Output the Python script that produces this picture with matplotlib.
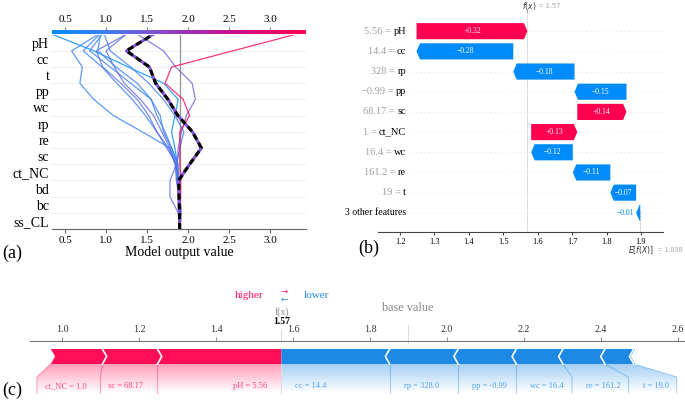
import numpy as np
import matplotlib
matplotlib.use("Agg")
import matplotlib.pyplot as plt
import matplotlib.transforms as mtransforms
from matplotlib.colors import LinearSegmentedColormap, Normalize, to_rgba
from matplotlib.patches import Polygon

plt.rcParams['font.family'] = ['Liberation Serif', 'DejaVu Sans']
plt.rcParams['mathtext.fontset'] = 'dejavusans'

FIG_W, FIG_H = 685, 408

# SHAP values of the explained sample
base_value = 1.898
wf_features = ['pH', 'cc', 'rp', 'pp', 'sc', 'ct_NC', 'wc', 're', 't']
wf_values = ['5.56', '14.4', '328', '\u22120.99', '68.17', '1', '16.4', '161.2', '19']
force_values = ['5.56', '14.4', '328.0', '-0.99', '68.17', '1.0', '16.4', '161.2', '19.0']
wf_shap = [0.322, -0.281, -0.178, -0.151, 0.143, 0.134, -0.121, -0.109, -0.075]
other_features = ['bd', 'bc', 'ss_CL']
other_shap = [-0.004, -0.006, -0.002]
other_label = '3 other features'

# decision plot: rows top to bottom, other samples as cumulative output
# at each row boundary (top = model output, bottom = base value)
dec_features = ['pH', 'cc', 't', 'pp', 'wc', 'rp', 're', 'sc', 'ct_NC', 'bd', 'bc', 'ss_CL']
dec_lines = [
    [0.35, 0.85, 1.27, 1.70, 1.88, 1.84, 1.80, 1.84, 1.87, 1.88, 1.89, 1.90, 1.898],
    [0.90, 0.58, 0.71, 0.68, 0.85, 1.09, 1.44, 1.78, 1.86, 1.86, 1.89, 1.90, 1.898],
    [0.92, 0.72, 0.95, 1.13, 1.32, 1.48, 1.62, 1.76, 1.85, 1.88, 1.89, 1.90, 1.898],
    [0.95, 0.80, 1.05, 1.30, 1.55, 1.66, 1.70, 1.80, 1.87, 1.88, 1.90, 1.90, 1.898],
    [1.24, 0.88, 0.96, 1.18, 1.38, 1.52, 1.62, 1.74, 1.86, 1.78, 1.78, 1.88, 1.898],
    [1.39, 1.70, 1.85, 2.05, 2.09, 1.98, 1.92, 1.88, 1.87, 1.89, 1.90, 1.90, 1.898],
    [1.24, 1.00, 1.10, 1.22, 1.42, 1.58, 1.68, 1.78, 1.84, 1.86, 1.90, 1.92, 1.898],
    [0.93, 0.90, 1.12, 1.38, 1.55, 1.62, 1.72, 1.80, 1.88, 1.87, 1.88, 1.89, 1.898],
    [0.98, 1.05, 1.30, 1.52, 1.70, 1.84, 1.95, 1.90, 1.86, 1.88, 1.89, 1.90, 1.898],
    [3.30, 2.55, 1.80, 1.72, 1.94, 2.02, 1.90, 1.90, 1.90, 1.91, 1.91, 1.90, 1.898],
]
dec_ticks = [0.5, 1.0, 1.5, 2.0, 2.5, 3.0]
wf_ticks = [1.2, 1.3, 1.4, 1.5, 1.6, 1.7, 1.8, 1.9]
force_ticks = [1.0, 1.2, 1.4, 1.6, 1.8, 2.0, 2.2, 2.4, 2.6]

RED_W, BLUE_W = '#ff0051', '#008bfb'
RED_F, BLUE_F = '#ff0d57', '#1e88e5'

fx = base_value + sum(wf_shap) + sum(other_shap)
shap_map = dict(zip(wf_features + other_features, wf_shap + other_shap))

fig = plt.figure(figsize=(FIG_W / 100, FIG_H / 100), dpi=100)
renderer = fig.canvas.get_renderer()


def px_axes(x0, y0, x1, y1):
    return fig.add_axes([x0 / FIG_W, 1 - y1 / FIG_H, (x1 - x0) / FIG_W, (y1 - y0) / FIG_H])


def fmt(v):
    return f'{v:+.2f}'.replace('-', '\u2212')


def text_px(ax, label, **kw):
    t = ax.text(0, 0, label, **kw)
    w = t.get_window_extent(renderer).width
    t.remove()
    return w


# ---------------- (a) decision plot ----------------
ax_a = px_axes(52, 34.6, 306, 229)
x_lo, x_hi = 0.34, 3.44
cmap = LinearSegmentedColormap.from_list('shap_rb', [
    (0.0, '#008bfb'), (0.18, '#3482f2'), (0.37, '#7a5ad8'), (0.53, '#9a30b8'),
    (0.70, '#c81090'), (0.86, '#e80a6a'), (1.0, '#ff0052')])
norm = Normalize(x_lo, x_hi)
n = len(dec_features)
for i in range(1, n):
    ax_a.axhline(i, color='#cccccc', lw=0.6, dashes=(1, 2), zorder=0)
ax_a.axvline(base_value, color='#999999', lw=1, zorder=1)
y_top_down = np.arange(n, -1, -1)
for line in dec_lines:
    ax_a.plot(line, y_top_down, color=cmap(norm(line[0])), lw=0.9, alpha=0.8, zorder=2)

contrib_bottom_up = [shap_map[f] for f in dec_features[::-1]]
hl_path = base_value + np.concatenate([[0], np.cumsum(contrib_bottom_up)])
ax_a.plot(hl_path, np.arange(n + 1), color=cmap(norm(fx)), lw=2.2, zorder=3)
ax_a.plot(hl_path, np.arange(n + 1), color='black', lw=2.2, dashes=(2, 1.2), zorder=4)

ax_a.set_xlim(x_lo, x_hi)
ax_a.set_ylim(0, n)
ax_a.set_yticks(np.arange(n) + 0.5)
ax_a.set_yticklabels(dec_features[::-1], fontsize=10)
ax_a.tick_params(axis='y', length=0, pad=2)
ax_a.set_xticks(dec_ticks)
ax_a.tick_params(axis='x', labelsize=8, length=3, color='#666666', pad=2)
for s in ['left', 'top', 'right']:
    ax_a.spines[s].set_visible(False)
ax_a.spines['bottom'].set_color('#666666')
ax_a.set_xlabel('Model output value', fontsize=10, labelpad=1)

ax_cb = px_axes(52, 29.5, 306, 34.5)
ax_cb.imshow(np.linspace(x_lo, x_hi, 256)[None, :], extent=[x_lo, x_hi, 0, 1],
             aspect='auto', cmap=cmap, norm=norm)
ax_cb.set_xlim(x_lo, x_hi)
ax_cb.set_yticks([])
ax_cb.xaxis.tick_top()
ax_cb.set_xticks(dec_ticks)
ax_cb.tick_params(axis='x', labelsize=8, length=2, color='#888888', pad=2)
for s in ax_cb.spines.values():
    s.set_visible(False)

# ---------------- (b) waterfall ----------------
ax_b = px_axes(378, 12, 663, 232)
names_bt = [other_label] + wf_features[::-1]
vals_bt = [None] + wf_values[::-1]
shap_bt = [sum(other_shap)] + wf_shap[::-1]
nb = len(names_bt)
bh, head = 0.8, 0.01
for i in range(nb):
    ax_b.axhline(i, color='#cccccc', lw=0.5, dashes=(1, 5), zorder=0)
ax_b.axvline(fx, color='#dddddd', lw=0.7, zorder=0)
ax_b.axvline(base_value, 0, 1 / nb, color='#bbbbbb', lw=0.5, ls='--', zorder=0)

start = base_value
for i, s in enumerate(shap_bt):
    end = start + s
    hd = min(head, abs(s))
    if s > 0:
        pts = [(start, i - bh / 2), (end - hd, i - bh / 2), (end, i),
               (end - hd, i + bh / 2), (start, i + bh / 2)]
        col = RED_W
    else:
        pts = [(start, i - bh / 2), (end + hd, i - bh / 2), (end, i),
               (end + hd, i + bh / 2), (start, i + bh / 2)]
        col = BLUE_W
    ax_b.add_patch(Polygon(pts, closed=True, fc=col, ec='none', zorder=2))
    if abs(s) > 0.04:
        ax_b.text((start + end) / 2, i, fmt(s), color='white', fontsize=5.5,
                  ha='center', va='center', zorder=3)
    else:
        ax_b.text(end - 0.006 if s < 0 else end + 0.006, i, fmt(s), color=col,
                  fontsize=5.5, ha='right' if s < 0 else 'left', va='center', zorder=3)
    start = end

lab_tr = mtransforms.blended_transform_factory(ax_b.transAxes, ax_b.transData)
ax_w = 285
lx = (406 - 378) / ax_w
for i, (name, val) in enumerate(zip(names_bt, vals_bt)):
    if val is None:
        ax_b.text(lx, i, name, transform=lab_tr, fontsize=7, ha='right', va='center')
    else:
        ax_b.text(lx, i, name, transform=lab_tr, fontsize=7.5, color='black',
                  ha='right', va='center')
        name_w = text_px(ax_b, name, fontsize=7.5) + 2.5
        ax_b.text(lx - name_w / ax_w, i, f'{val} =', transform=lab_tr, fontsize=7.5,
                  color='#a0a0a0', ha='right', va='center')

ax_b.set_xlim(1.136, 1.964)
ax_b.set_ylim(-0.95, nb - 0.05)
ax_b.set_yticks([])
ax_b.set_xticks(wf_ticks)
ax_b.tick_params(axis='x', labelsize=6, length=2, pad=2, color='#444444')
for s in ['left', 'top', 'right']:
    ax_b.spines[s].set_visible(False)
ax_b.spines['bottom'].set_color('#444444')
ax_b.spines['bottom'].set_linewidth(0.8)

top_tr = mtransforms.blended_transform_factory(ax_b.transData, ax_b.transAxes)
ax_b.plot([fx, fx], [1.0, 1.012], transform=top_tr, color='#999999', lw=0.6, clip_on=False)
ax_b.annotate('$f(x)$', xy=(fx, 1.0), xycoords=top_tr, xytext=(1.5, 4.3),
              textcoords='offset points', fontsize=5.5, ha='center', va='center', color='#333333')
ax_b.annotate(f'= {fx:.2f}', xy=(fx, 1.0), xycoords=top_tr, xytext=(8.5, 4.3),
              textcoords='offset points', fontsize=5.5, ha='left', va='center',
              color='#aaaaaa', family='Liberation Sans')
ax_b.annotate('$E[f(X)]$', xy=(base_value, 0), xycoords=top_tr, xytext=(0.5, -13),
              textcoords='offset points', fontsize=5.5, ha='center', va='center', color='#333333')
ax_b.annotate(f'= {base_value:.3f}', xy=(base_value, 0), xycoords=top_tr, xytext=(12.5, -13),
              textcoords='offset points', fontsize=5.2, ha='left', va='center',
              color='#aaaaaa', family='Liberation Sans')

# ---------------- (c) force plot ----------------
ax_c = px_axes(30, 341, 685, 401)
c_lo, c_hi = 0.917, 2.618
ax_c.set_xlim(c_lo, c_hi)
ax_c.set_ylim(60, 0)
ppu = 655 / (c_hi - c_lo)          # pixels per output unit
px = lambda p: p / ppu
bar_top, bar_bot, bar_mid = 8, 23, 15.5
diag_y, sep_end, lab_y = 36, 52, 45
h = px(4.3)
pad = px(14)
lab_fs = 6

force_labels = {f: f'{f} = {v}' for f, v in zip(wf_features, force_values)}
items = list(zip(wf_features + other_features, wf_shap + other_shap))
pos = sorted([it for it in items if it[1] > 0], key=lambda it: -it[1])
neg = sorted([it for it in items if it[1] < 0], key=lambda it: it[1])

# red side, growing leftwards from f(x)
right = fx
slot_prev = fx
red_first_left = red_last_slot = None
for k, (name, s) in enumerate(pos):
    left = right - s
    r_tip = 0 if k == 0 else h
    pts = [(left, bar_top), (right, bar_top), (right + r_tip, bar_mid), (right, bar_bot),
           (left, bar_bot), (left + h, bar_mid)]
    ax_c.add_patch(Polygon(pts, closed=True, fc=RED_F, ec='none', zorder=3))
    if k > 0:
        ax_c.plot([right, right + h, right], [bar_top, bar_mid, bar_bot],
                  color='white', lw=1.2, zorder=4)
    label = force_labels[name]
    slot_r = min(right, slot_prev)
    slot_l = min(left, slot_r - px(text_px(ax_c, label, fontsize=lab_fs) + 22))
    ax_c.text(slot_r - pad, lab_y, label, fontsize=lab_fs, color=RED_F, alpha=0.75,
              ha='right', va='center')
    ax_c.plot([left, slot_l, slot_l], [bar_bot, diag_y, sep_end],
              color=to_rgba(RED_F, 0.35), lw=0.8, zorder=2)
    slot_prev = slot_l
    red_first_left, red_last_slot = left, slot_l
    right = left

# blue side, growing rightwards from f(x)
left = fx
slot_prev = fx
blue_last_right = blue_last_slot = None
for k, (name, s) in enumerate(neg):
    right = left - s
    l_tip = 0 if k == 0 else h
    pts = [(left, bar_top), (right, bar_top), (right - h, bar_mid), (right, bar_bot),
           (left, bar_bot), (left - l_tip, bar_mid)]
    ax_c.add_patch(Polygon(pts, closed=True, fc=BLUE_F, ec='none', zorder=3))
    if k > 0:
        ax_c.plot([left, left - h, left], [bar_top, bar_mid, bar_bot],
                  color='white', lw=1.2, zorder=4)
    if name in force_labels:
        label = force_labels[name]
        slot_l = max(left, slot_prev)
        slot_r = max(right, slot_l + px(text_px(ax_c, label, fontsize=lab_fs) + 22))
        ax_c.text(slot_l + pad, lab_y, label, fontsize=lab_fs, color=BLUE_F, alpha=0.75,
                  ha='left', va='center')
        ax_c.plot([right, slot_r, slot_r], [bar_bot, diag_y, sep_end],
                  color=to_rgba(BLUE_F, 0.35), lw=0.8, zorder=2)
        slot_prev = slot_r
        blue_last_right, blue_last_slot = right, slot_r
    left = right

ax_c.plot([fx, fx], [bar_bot, sep_end], color='#dddddd', lw=0.8, zorder=2)


def gradient_fill(poly_pts, color):
    rgba = np.zeros((64, 1, 4))
    rgba[:, 0, :3] = to_rgba(color)[:3]
    rgba[:, 0, 3] = np.linspace(0.4, 0.0, 64)
    xs = [p[0] for p in poly_pts]
    im = ax_c.imshow(rgba, extent=[min(xs), max(xs), sep_end, bar_bot], origin='upper',
                     aspect='auto', zorder=1, interpolation='bilinear')
    clip = Polygon(poly_pts, closed=True, transform=ax_c.transData, fc='none', ec='none')
    ax_c.add_patch(clip)
    im.set_clip_path(clip)


gradient_fill([(red_first_left, bar_bot), (red_last_slot, diag_y), (red_last_slot, sep_end),
               (fx, sep_end), (fx, bar_bot)], RED_F)
gradient_fill([(fx, bar_bot), (blue_last_right, bar_bot), (blue_last_slot, diag_y),
               (blue_last_slot, sep_end), (fx, sep_end)], BLUE_F)

ax_c.set_xlim(c_lo, c_hi)
ax_c.set_ylim(60, 0)
ax_c.set_yticks([])
ax_c.xaxis.tick_top()
ax_c.set_xticks(force_ticks)
ax_c.tick_params(axis='x', labelsize=7.2, length=3, pad=2, color='#999999', labelcolor='#333333')
for s in ['left', 'bottom', 'right']:
    ax_c.spines[s].set_visible(False)
ax_c.spines['top'].set_color('#777777')

ax_c.plot([fx, fx], [-12, 0], color='#dddddd', lw=0.8, clip_on=False)
ax_c.plot([base_value, base_value], [-16, 2], color='#dddddd', lw=0.8, clip_on=False)
ax_c.text(fx, -29, 'f(x)', fontsize=7, color='#888888', ha='center', va='center')
ax_c.text(fx, -19, f'{fx:.2f}', fontsize=7, fontweight='bold', ha='center', va='center')
ax_c.text(base_value, -33, 'base value', fontsize=8.8, color='#888888', ha='center', va='center')
ax_c.text(fx - px(18), -46, 'higher', fontsize=8, color=RED_F, ha='right', va='center')
ax_c.text(fx + px(22), -46, 'lower', fontsize=8, color=BLUE_F, ha='left', va='center')
ax_c.text(fx + px(3), -50, '\u2192', fontsize=6, color=RED_F, ha='center', va='center',
          family='DejaVu Sans')
ax_c.text(fx + px(3), -42, '\u2190', fontsize=6, color=BLUE_F, ha='center', va='center',
          family='DejaVu Sans')

# panel letters
for lab, (x, y) in {'(a)': (12, 253), '(b)': (369, 248), '(c)': (12, 390)}.items():
    fig.text(x / FIG_W, 1 - y / FIG_H, lab, fontsize=13, ha='center', va='center')

fig.savefig('out.png', dpi=100)
